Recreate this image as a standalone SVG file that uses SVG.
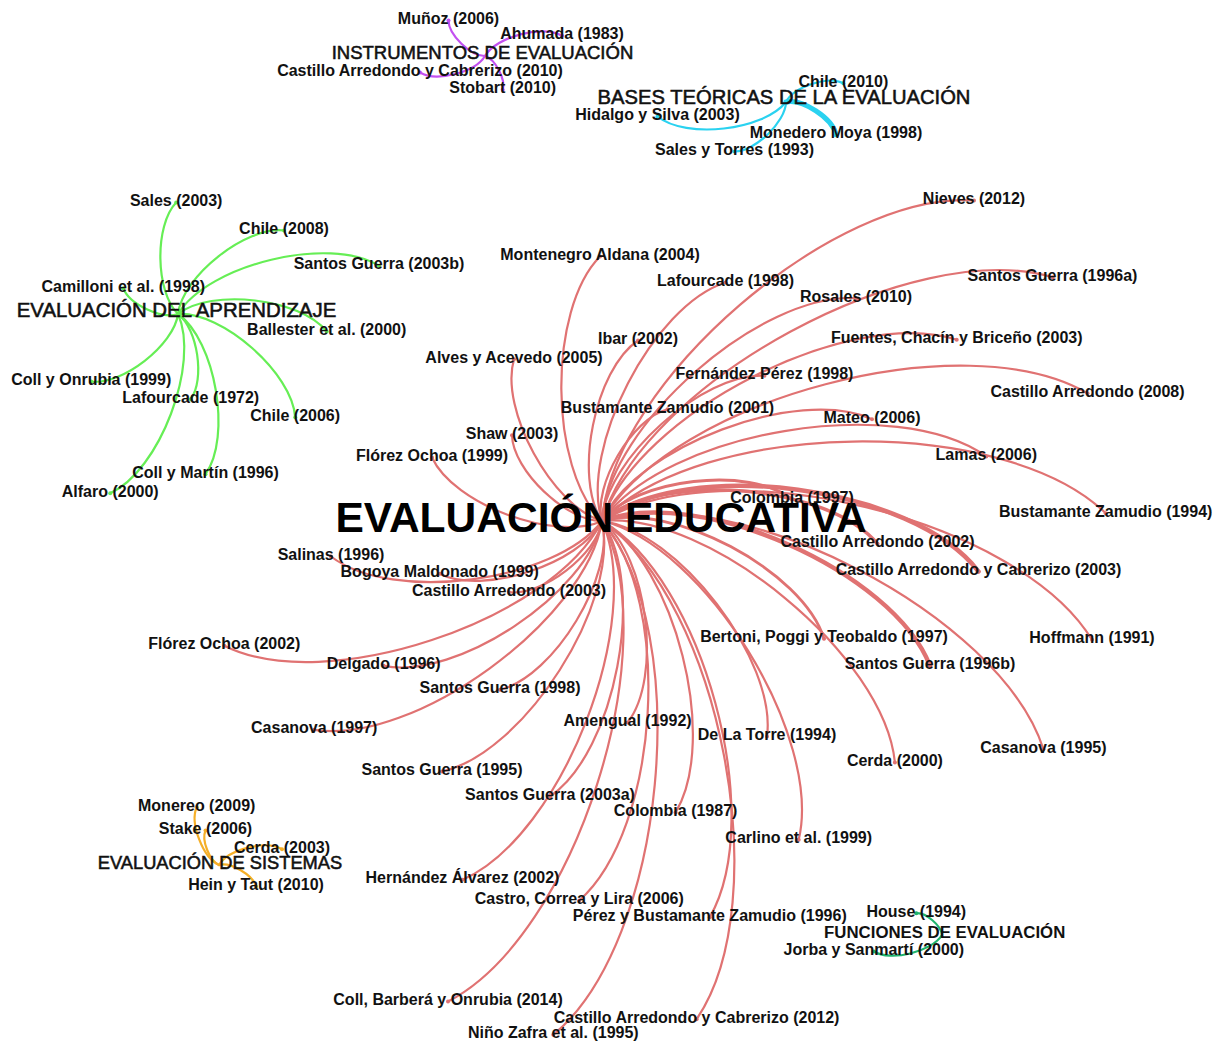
<svg xmlns="http://www.w3.org/2000/svg" width="1224" height="1045" viewBox="0 0 1224 1045">
<style>
  .e { fill: none; stroke-width: 2.2; stroke-linecap: round; }
  .red { stroke: #e07272; }
  .grn { stroke: #66ee55; }
  .pur { stroke: #c350f0; }
  .cya { stroke: #2ad2f0; }
  .org { stroke: #f5af28; }
  .tea { stroke: #1fb46e; }
  text { font-family: "Liberation Sans", Arial, sans-serif; fill: #111; text-anchor: middle; }
  .lbl { font-weight: bold; font-size: 16px; }
  .hub { font-size: 20.3px; stroke: #111; stroke-width: 0.55px; }
  .main { font-weight: bold; font-size: 42.5px; fill: #000; }
  .dot-r { fill: #e07272; } .dot-g { fill: #66ee55; } .dot-p { fill: #c350f0; }
  .dot-c { fill: #2ad2f0; } .dot-o { fill: #f5af28; } .dot-t { fill: #1fb46e; }
</style>

<!-- curved citation links (cubic, hub to reference) -->
<g id="connectors">
  <!-- EVALUACIÓN EDUCATIVA -->
  <path class="e red" d="M602 521 C612.3 382.5 835.5 190.2 974 200.5"/>
  <path class="e red" d="M602 521 C548.7 468.5 547.5 309.8 600 256.5"/>
  <path class="e red" d="M602 521 C579 448.6 653.1 305.5 725.5 282.5"/>
  <path class="e red" d="M602 521 C643.3 382.1 913.6 235.9 1052.5 277.2"/>
  <path class="e red" d="M602 521 C608.2 425.6 760.6 292 856 298.2"/>
  <path class="e red" d="M602 521 C573.1 477.7 594.7 369.4 638 340.5"/>
  <path class="e red" d="M602 521 C636.7 413.8 849.5 305.1 956.7 339.8"/>
  <path class="e red" d="M602 521 C552 506.2 499.2 409.2 514 359.2"/>
  <path class="e red" d="M602 521 C605.5 459.5 703 372.3 764.5 375.8"/>
  <path class="e red" d="M602 521 C673.5 398.3 964.8 321.7 1087.5 393.2"/>
  <path class="e red" d="M602 521 C592.7 485.5 632 418.5 667.5 409.2"/>
  <path class="e red" d="M602 521 C635.6 446.6 797.6 385.6 872 419.2"/>
  <path class="e red" d="M602 521 C566.8 521.8 512.8 470.4 512 435.2"/>
  <path class="e red" d="M602 521 C555.3 542.3 453.3 504.2 432 457.5"/>
  <path class="e red" d="M602 521 C666 431.2 896.5 392.5 986.3 456.5"/>
  <path class="e red" d="M602 521 C635.6 478.6 749.6 465.6 792 499.2" style="stroke-width:3"/>
  <path class="e red" d="M602 521 C701.2 418.7 1003.4 414 1105.7 513.2"/>
  <path class="e red" d="M602 521 C661.7 470.5 827 484.1 877.5 543.8" style="stroke-width:3.5"/>
  <path class="e red" d="M602 521 C554.9 582.3 392.3 603.6 331 556.5"/>
  <path class="e red" d="M602 521 C687.4 455.8 913.3 486.1 978.5 571.5" style="stroke-width:4.5"/>
  <path class="e red" d="M602 521 C580.1 564 482.7 595.7 439.7 573.8"/>
  <path class="e red" d="M602 521 C597.6 553.8 541.8 596.6 509 592.2"/>
  <path class="e red" d="M602 521 C670 500.2 803.2 570.8 824 638.8" style="stroke-width:2.8"/>
  <path class="e red" d="M602 521 C723.8 446.8 1017.8 518 1092 639.8"/>
  <path class="e red" d="M602 521 C551.4 621.5 324.8 696.4 224.3 645.8"/>
  <path class="e red" d="M602 521 C696.6 484.4 893.4 571.2 930 665.8" style="stroke-width:4.5"/>
  <path class="e red" d="M602 521 C587.3 593.6 456.3 680.5 383.7 665.8"/>
  <path class="e red" d="M602 521 C615.4 575.2 554.2 676.4 500 689.8"/>
  <path class="e red" d="M602 521 C647.4 556.2 662.8 677.1 627.6 722.5"/>
  <path class="e red" d="M602 521 C586.2 620.3 413.5 745.6 314.2 729.8"/>
  <path class="e red" d="M602 521 C678.1 531.1 777.1 660.4 767 736.5"/>
  <path class="e red" d="M602 521 C735.9 478.4 1000.8 615.3 1043.4 749.2"/>
  <path class="e red" d="M602 521 C708.9 510.7 884.6 655.6 894.9 762.5"/>
  <path class="e red" d="M602 521 C620.1 603.1 524.1 753.4 442 771.5"/>
  <path class="e red" d="M602 521 C646.7 586.5 615.5 751.8 550 796.5"/>
  <path class="e red" d="M602 521 C675 564.6 719.2 739.5 675.6 812.5"/>
  <path class="e red" d="M602 521 C705.1 545.4 823.1 736.7 798.7 839.8"/>
  <path class="e red" d="M602 521 C645.9 620.7 562.2 835.9 462.5 879.8"/>
  <path class="e red" d="M602 521 C673.4 601.4 659.7 829.1 579.3 900.5"/>
  <path class="e red" d="M602 521 C702.8 578.7 767.5 816.4 709.8 917.2"/>
  <path class="e red" d="M602 521 C667.3 647.9 574.9 936.2 448 1001.5"/>
  <path class="e red" d="M602 521 C720.6 601.7 777.3 900.6 696.6 1019.2"/>
  <path class="e red" d="M602 521 C695 633.5 665.8 941.8 553.3 1034.8"/>
  <!-- EVALUACIÓN DEL APRENDIZAJE -->
  <path class="e grn" d="M178 314 C155.3 292.1 154.3 225.2 176.2 202.5"/>
  <path class="e grn" d="M178 314 C182.5 276.1 246.1 226 284 230.5"/>
  <path class="e grn" d="M178 314 C208.6 264.2 329.2 235.2 379 265.8"/>
  <path class="e grn" d="M178 314 C161.9 319.8 129.1 304.3 123.3 288.2"/>
  <path class="e grn" d="M178 314 C211.2 287.8 300.5 298.3 326.7 331.5"/>
  <path class="e grn" d="M178 314 C174.1 344.9 122.1 385.4 91.2 381.5"/>
  <path class="e grn" d="M178 314 C197.6 328.5 205.2 379.6 190.7 399.2"/>
  <path class="e grn" d="M178 314 C222.1 311.2 292.4 373.1 295.2 417.2"/>
  <path class="e grn" d="M178 314 C215.5 340.5 232 436.7 205.5 474.2"/>
  <path class="e grn" d="M178 314 C200.3 363.4 159.6 470.9 110.2 493.2"/>
  <!-- INSTRUMENTOS DE EVALUACIÓN -->
  <path class="e pur" d="M485 56 C470.6 56.2 448.7 34.9 448.5 20.5"/>
  <path class="e pur" d="M485 56 C496.4 36.6 542.6 24.4 562 35.8"/>
  <path class="e pur" d="M485 56 C475.3 72.3 436.3 82.2 420 72.5"/>
  <path class="e pur" d="M485 56 C495.3 59.2 505.9 79.5 502.7 89.8"/>
  <!-- BASES TEÓRICAS DE LA EVALUACIÓN -->
  <path class="e cya" d="M786 102 C793.7 86.8 828.1 75.5 843.3 83.2"/>
  <path class="e cya" d="M786 102 C763.2 130.6 686.1 139.3 657.5 116.5"/>
  <path class="e cya" d="M786 102 C802.6 98.6 832.6 118.2 836 134.8" style="stroke-width:5"/>
  <path class="e cya" d="M786 102 C785.6 122.2 754.7 151.9 734.5 151.5"/>
  <!-- EVALUACIÓN DE SISTEMAS -->
  <path class="e org" d="M219 865 C203 857.9 189.6 823.2 196.7 807.2"/>
  <path class="e org" d="M219 865 C209.4 860.8 201.3 840.1 205.5 830.5"/>
  <path class="e org" d="M219 865 C228.4 849.2 266.2 839.8 282 849.2"/>
  <path class="e org" d="M219 865 C230.7 861.9 252.9 874.8 256 886.5"/>
  <!-- FUNCIONES DE EVALUACIÓN -->
  <path class="e tea" d="M942 935 C941.2 925.5 925.8 912.4 916.3 913.2"/>
  <path class="e tea" d="M942 935 C931.7 951.9 890.7 961.8 873.8 951.5"/>
</g>

<!-- main topic -->
<g id="n-evaluacion-educativa"><text class="main" x="601" y="532">EVALUACIÓN EDUCATIVA</text></g>

<!-- references of EVALUACIÓN EDUCATIVA -->
<g id="n-nieves-2012"><circle class="dot-r" cx="974" cy="200.5" r="2"/><text class="lbl" x="974" y="204">Nieves (2012)</text></g>
<g id="n-montenegro-2004"><circle class="dot-r" cx="600" cy="256.5" r="2"/><text class="lbl" x="600" y="260">Montenegro Aldana (2004)</text></g>
<g id="n-lafourcade-1998"><circle class="dot-r" cx="725.5" cy="282.5" r="2"/><text class="lbl" x="725.5" y="286">Lafourcade (1998)</text></g>
<g id="n-santos-1996a"><circle class="dot-r" cx="1052.5" cy="277.2" r="2"/><text class="lbl" x="1052.5" y="280.7">Santos Guerra (1996a)</text></g>
<g id="n-rosales-2010"><circle class="dot-r" cx="856" cy="298.2" r="2"/><text class="lbl" x="856" y="301.7">Rosales (2010)</text></g>
<g id="n-ibar-2002"><circle class="dot-r" cx="638" cy="340.5" r="2"/><text class="lbl" x="638" y="344">Ibar (2002)</text></g>
<g id="n-fuentes-2003"><circle class="dot-r" cx="956.7" cy="339.8" r="2"/><text class="lbl" x="956.7" y="343.3">Fuentes, Chacín y Briceño (2003)</text></g>
<g id="n-alves-2005"><circle class="dot-r" cx="514" cy="359.2" r="2"/><text class="lbl" x="514" y="362.7">Alves y Acevedo (2005)</text></g>
<g id="n-fernandez-1998"><circle class="dot-r" cx="764.5" cy="375.8" r="2"/><text class="lbl" x="764.5" y="379.3">Fernández Pérez (1998)</text></g>
<g id="n-castillo-2008"><circle class="dot-r" cx="1087.5" cy="393.2" r="2"/><text class="lbl" x="1087.5" y="396.7">Castillo Arredondo (2008)</text></g>
<g id="n-bustamante-2001"><circle class="dot-r" cx="667.5" cy="409.2" r="2"/><text class="lbl" x="667.5" y="412.7">Bustamante Zamudio (2001)</text></g>
<g id="n-mateo-2006"><circle class="dot-r" cx="872" cy="419.2" r="2"/><text class="lbl" x="872" y="422.7">Mateo (2006)</text></g>
<g id="n-shaw-2003"><circle class="dot-r" cx="512" cy="435.2" r="2"/><text class="lbl" x="512" y="438.7">Shaw (2003)</text></g>
<g id="n-florez-1999"><circle class="dot-r" cx="432" cy="457.5" r="2"/><text class="lbl" x="432" y="461">Flórez Ochoa (1999)</text></g>
<g id="n-lamas-2006"><circle class="dot-r" cx="986.3" cy="456.5" r="2"/><text class="lbl" x="986.3" y="460">Lamas (2006)</text></g>
<g id="n-colombia-1997"><circle class="dot-r" cx="792" cy="499.2" r="2"/><text class="lbl" x="792" y="502.7">Colombia (1997)</text></g>
<g id="n-bustamante-1994"><circle class="dot-r" cx="1105.7" cy="513.2" r="2"/><text class="lbl" x="1105.7" y="516.7">Bustamante Zamudio (1994)</text></g>
<g id="n-castillo-2002"><circle class="dot-r" cx="877.5" cy="543.8" r="2"/><text class="lbl" x="877.5" y="547.3">Castillo Arredondo (2002)</text></g>
<g id="n-salinas-1996"><circle class="dot-r" cx="331" cy="556.5" r="2"/><text class="lbl" x="331" y="560">Salinas (1996)</text></g>
<g id="n-castillo-cabrerizo-2003"><circle class="dot-r" cx="978.5" cy="571.5" r="2"/><text class="lbl" x="978.5" y="575">Castillo Arredondo y Cabrerizo (2003)</text></g>
<g id="n-bogoya-1999"><circle class="dot-r" cx="439.7" cy="573.8" r="2"/><text class="lbl" x="439.7" y="577.3">Bogoya Maldonado (1999)</text></g>
<g id="n-castillo-2003"><circle class="dot-r" cx="509" cy="592.2" r="2"/><text class="lbl" x="509" y="595.7">Castillo Arredondo (2003)</text></g>
<g id="n-bertoni-1997"><circle class="dot-r" cx="824" cy="638.8" r="2"/><text class="lbl" x="824" y="642.3">Bertoni, Poggi y Teobaldo (1997)</text></g>
<g id="n-hoffmann-1991"><circle class="dot-r" cx="1092" cy="639.8" r="2"/><text class="lbl" x="1092" y="643.3">Hoffmann (1991)</text></g>
<g id="n-florez-2002"><circle class="dot-r" cx="224.3" cy="645.8" r="2"/><text class="lbl" x="224.3" y="649.3">Flórez Ochoa (2002)</text></g>
<g id="n-santos-1996b"><circle class="dot-r" cx="930" cy="665.8" r="2"/><text class="lbl" x="930" y="669.3">Santos Guerra (1996b)</text></g>
<g id="n-delgado-1996"><circle class="dot-r" cx="383.7" cy="665.8" r="2"/><text class="lbl" x="383.7" y="669.3">Delgado (1996)</text></g>
<g id="n-santos-1998"><circle class="dot-r" cx="500" cy="689.8" r="2"/><text class="lbl" x="500" y="693.3">Santos Guerra (1998)</text></g>
<g id="n-amengual-1992"><circle class="dot-r" cx="627.6" cy="722.5" r="2"/><text class="lbl" x="627.6" y="726">Amengual (1992)</text></g>
<g id="n-casanova-1997"><circle class="dot-r" cx="314.2" cy="729.8" r="2"/><text class="lbl" x="314.2" y="733.3">Casanova (1997)</text></g>
<g id="n-delatorre-1994"><circle class="dot-r" cx="767" cy="736.5" r="2"/><text class="lbl" x="767" y="740">De La Torre (1994)</text></g>
<g id="n-casanova-1995"><circle class="dot-r" cx="1043.4" cy="749.2" r="2"/><text class="lbl" x="1043.4" y="752.7">Casanova (1995)</text></g>
<g id="n-cerda-2000"><circle class="dot-r" cx="894.9" cy="762.5" r="2"/><text class="lbl" x="894.9" y="766">Cerda (2000)</text></g>
<g id="n-santos-1995"><circle class="dot-r" cx="442" cy="771.5" r="2"/><text class="lbl" x="442" y="775">Santos Guerra (1995)</text></g>
<g id="n-santos-2003a"><circle class="dot-r" cx="550" cy="796.5" r="2"/><text class="lbl" x="550" y="800">Santos Guerra (2003a)</text></g>
<g id="n-colombia-1987"><circle class="dot-r" cx="675.6" cy="812.5" r="2"/><text class="lbl" x="675.6" y="816">Colombia (1987)</text></g>
<g id="n-carlino-1999"><circle class="dot-r" cx="798.7" cy="839.8" r="2"/><text class="lbl" x="798.7" y="843.3">Carlino et al. (1999)</text></g>
<g id="n-hernandez-2002"><circle class="dot-r" cx="462.5" cy="879.8" r="2"/><text class="lbl" x="462.5" y="883.3">Hernández Álvarez (2002)</text></g>
<g id="n-castro-2006"><circle class="dot-r" cx="579.3" cy="900.5" r="2"/><text class="lbl" x="579.3" y="904">Castro, Correa y Lira (2006)</text></g>
<g id="n-perez-1996"><circle class="dot-r" cx="709.8" cy="917.2" r="2"/><text class="lbl" x="709.8" y="920.7">Pérez y Bustamante Zamudio (1996)</text></g>
<g id="n-coll-2014"><circle class="dot-r" cx="448" cy="1001.5" r="2"/><text class="lbl" x="448" y="1005">Coll, Barberá y Onrubia (2014)</text></g>
<g id="n-castillo-cabrerizo-2012"><circle class="dot-r" cx="696.6" cy="1019.2" r="2"/><text class="lbl" x="696.6" y="1022.7">Castillo Arredondo y Cabrerizo (2012)</text></g>
<g id="n-nino-1995"><circle class="dot-r" cx="553.3" cy="1034.8" r="2"/><text class="lbl" x="553.3" y="1038.3">Niño Zafra et al. (1995)</text></g>

<!-- EVALUACIÓN DEL APRENDIZAJE and its references -->
<g id="n-evaluacion-aprendizaje"><text class="hub" x="176.5" y="316.7" style="font-size:20.4px">EVALUACIÓN DEL APRENDIZAJE</text></g>
<g id="n-sales-2003"><circle class="dot-g" cx="176.2" cy="202.5" r="2"/><text class="lbl" x="176.2" y="206">Sales (2003)</text></g>
<g id="n-chile-2008"><circle class="dot-g" cx="284" cy="230.5" r="2"/><text class="lbl" x="284" y="234">Chile (2008)</text></g>
<g id="n-santos-2003b"><circle class="dot-g" cx="379" cy="265.8" r="2"/><text class="lbl" x="379" y="269.3">Santos Guerra (2003b)</text></g>
<g id="n-camilloni-1998"><circle class="dot-g" cx="123.3" cy="288.2" r="2"/><text class="lbl" x="123.3" y="291.7">Camilloni et al. (1998)</text></g>
<g id="n-ballester-2000"><circle class="dot-g" cx="326.7" cy="331.5" r="2"/><text class="lbl" x="326.7" y="335">Ballester et al. (2000)</text></g>
<g id="n-coll-onrubia-1999"><circle class="dot-g" cx="91.2" cy="381.5" r="2"/><text class="lbl" x="91.2" y="385">Coll y Onrubia (1999)</text></g>
<g id="n-lafourcade-1972"><circle class="dot-g" cx="190.7" cy="399.2" r="2"/><text class="lbl" x="190.7" y="402.7">Lafourcade (1972)</text></g>
<g id="n-chile-2006"><circle class="dot-g" cx="295.2" cy="417.2" r="2"/><text class="lbl" x="295.2" y="420.7">Chile (2006)</text></g>
<g id="n-coll-martin-1996"><circle class="dot-g" cx="205.5" cy="474.2" r="2"/><text class="lbl" x="205.5" y="477.7">Coll y Martín (1996)</text></g>
<g id="n-alfaro-2000"><circle class="dot-g" cx="110.2" cy="493.2" r="2"/><text class="lbl" x="110.2" y="496.7">Alfaro (2000)</text></g>

<!-- INSTRUMENTOS DE EVALUACIÓN and its references -->
<g id="n-instrumentos"><text class="hub" x="482.5" y="59.3" style="font-size:18.5px">INSTRUMENTOS DE EVALUACIÓN</text></g>
<g id="n-munoz-2006"><circle class="dot-p" cx="448.5" cy="20.5" r="2"/><text class="lbl" x="448.5" y="24">Muñoz (2006)</text></g>
<g id="n-ahumada-1983"><circle class="dot-p" cx="562" cy="35.8" r="2"/><text class="lbl" x="562" y="39.3">Ahumada (1983)</text></g>
<g id="n-castillo-cabrerizo-2010"><circle class="dot-p" cx="420" cy="72.5" r="2"/><text class="lbl" x="420" y="76">Castillo Arredondo y Cabrerizo (2010)</text></g>
<g id="n-stobart-2010"><circle class="dot-p" cx="502.7" cy="89.8" r="2"/><text class="lbl" x="502.7" y="93.3">Stobart (2010)</text></g>

<!-- BASES TEÓRICAS DE LA EVALUACIÓN and its references -->
<g id="n-bases-teoricas"><text class="hub" x="784" y="104.3" style="font-size:20.2px">BASES TEÓRICAS DE LA EVALUACIÓN</text></g>
<g id="n-chile-2010"><circle class="dot-c" cx="843.3" cy="83.2" r="2"/><text class="lbl" x="843.3" y="86.7">Chile (2010)</text></g>
<g id="n-hidalgo-2003"><circle class="dot-c" cx="657.5" cy="116.5" r="2"/><text class="lbl" x="657.5" y="120">Hidalgo y Silva (2003)</text></g>
<g id="n-monedero-1998"><circle class="dot-c" cx="836" cy="134.8" r="2"/><text class="lbl" x="836" y="138.3">Monedero Moya (1998)</text></g>
<g id="n-sales-torres-1993"><circle class="dot-c" cx="734.5" cy="151.5" r="2"/><text class="lbl" x="734.5" y="155">Sales y Torres (1993)</text></g>

<!-- EVALUACIÓN DE SISTEMAS and its references -->
<g id="n-evaluacion-sistemas"><text class="hub" x="220" y="869.3" style="font-size:18.3px">EVALUACIÓN DE SISTEMAS</text></g>
<g id="n-monereo-2009"><circle class="dot-o" cx="196.7" cy="807.2" r="2"/><text class="lbl" x="196.7" y="810.7">Monereo (2009)</text></g>
<g id="n-stake-2006"><circle class="dot-o" cx="205.5" cy="830.5" r="2"/><text class="lbl" x="205.5" y="834">Stake (2006)</text></g>
<g id="n-cerda-2003"><circle class="dot-o" cx="282" cy="849.2" r="2"/><text class="lbl" x="282" y="852.7">Cerda (2003)</text></g>
<g id="n-hein-2010"><circle class="dot-o" cx="256" cy="886.5" r="2"/><text class="lbl" x="256" y="890">Hein y Taut (2010)</text></g>

<!-- FUNCIONES DE EVALUACIÓN and its references -->
<g id="n-funciones"><text class="lbl" x="944.7" y="938.3" style="font-size:16.8px">FUNCIONES DE EVALUACIÓN</text></g>
<g id="n-house-1994"><circle class="dot-t" cx="916.3" cy="913.2" r="2"/><text class="lbl" x="916.3" y="916.7">House (1994)</text></g>
<g id="n-jorba-2000"><circle class="dot-t" cx="873.8" cy="951.5" r="2"/><text class="lbl" x="873.8" y="955">Jorba y Sanmartí (2000)</text></g>
</svg>
